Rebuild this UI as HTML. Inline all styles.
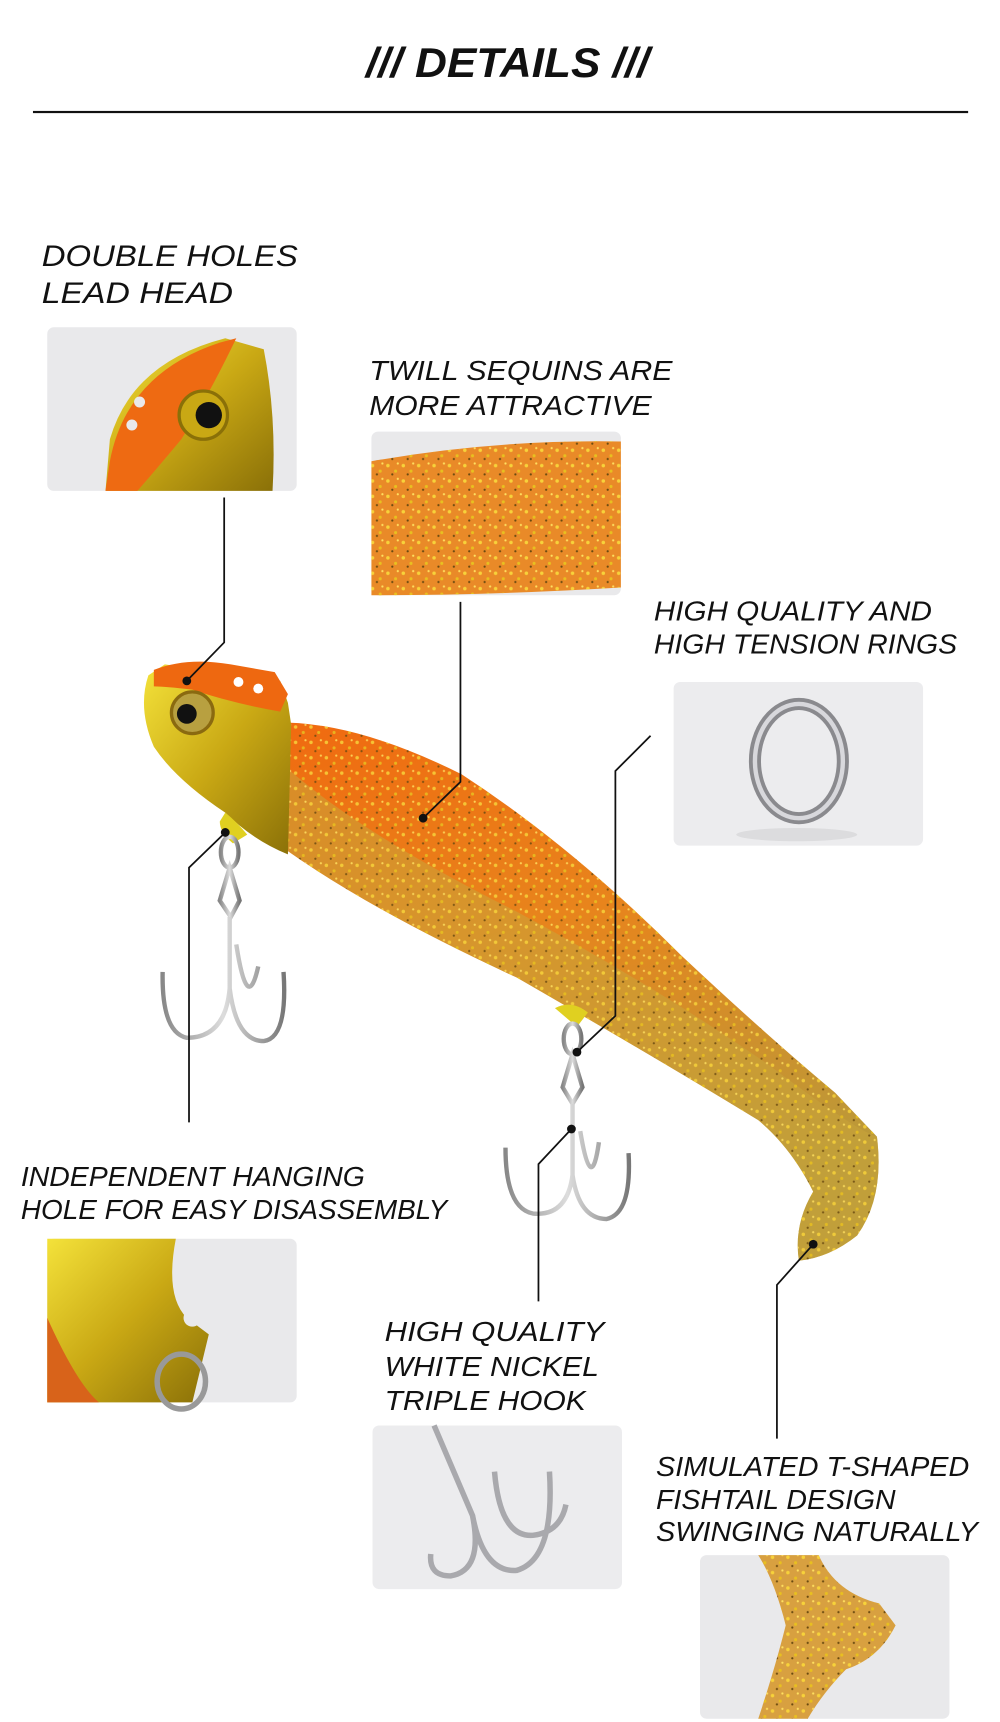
<!DOCTYPE html>
<html><head><meta charset="utf-8"><style>
html,body{margin:0;padding:0;background:#fff;}
svg{display:block;}
text{font-family:"Liberation Sans",sans-serif;font-style:italic;fill:#111;}
</style></head><body>
<svg width="1000" height="1722" viewBox="0 0 910 1568" preserveAspectRatio="none" xmlns="http://www.w3.org/2000/svg">
<defs>
<linearGradient id="body" x1="0" y1="0" x2="0.3" y2="1">
<stop offset="0" stop-color="#f06a10"/><stop offset="0.45" stop-color="#e8841c"/><stop offset="1" stop-color="#b99a3a"/></linearGradient>
<linearGradient id="gold" x1="0" y1="0" x2="1" y2="1">
<stop offset="0" stop-color="#f4e23a"/><stop offset="0.5" stop-color="#c9a814"/><stop offset="1" stop-color="#8a7008"/></linearGradient>
<linearGradient id="tail" x1="0" y1="0" x2="0" y2="1">
<stop offset="0" stop-color="#d99a3a"/><stop offset="1" stop-color="#d4bd55"/></linearGradient>
<pattern id="glit" width="14" height="14" patternUnits="userSpaceOnUse">
<circle cx="3" cy="4" r="1.6" fill="#f7d23a"/><circle cx="10" cy="9" r="1.4" fill="#e8c020"/><circle cx="7" cy="12" r="1" fill="#6a4a10"/><circle cx="12" cy="2" r="1" fill="#ffe060"/></pattern>
<linearGradient id="steel" x1="0" y1="0" x2="1" y2="0"><stop offset="0" stop-color="#888"/><stop offset="0.5" stop-color="#ddd"/><stop offset="1" stop-color="#777"/></linearGradient>
</defs>

<!-- title -->
<text x="462" y="70" text-anchor="middle" font-size="38" font-weight="bold" textLength="258" lengthAdjust="spacingAndGlyphs">/// DETAILS ///</text>
<rect x="30" y="101" width="851" height="2" fill="#111"/>

<!-- labels -->
<g font-size="27">
<text x="38" y="242" textLength="233" lengthAdjust="spacingAndGlyphs">DOUBLE HOLES</text>
<text x="38" y="276" textLength="174" lengthAdjust="spacingAndGlyphs">LEAD HEAD</text>
</g>
<g font-size="25">
<text x="336" y="346" textLength="276" lengthAdjust="spacingAndGlyphs">TWILL SEQUINS ARE</text>
<text x="336" y="378" textLength="257" lengthAdjust="spacingAndGlyphs">MORE ATTRACTIVE</text>
<text x="595" y="565" textLength="253" lengthAdjust="spacingAndGlyphs">HIGH QUALITY AND</text>
<text x="595" y="595" textLength="276" lengthAdjust="spacingAndGlyphs">HIGH TENSION RINGS</text>
<text x="19" y="1080" textLength="313" lengthAdjust="spacingAndGlyphs">INDEPENDENT HANGING</text>
<text x="19" y="1110" textLength="388" lengthAdjust="spacingAndGlyphs">HOLE FOR EASY DISASSEMBLY</text>
<text x="350" y="1221" textLength="200" lengthAdjust="spacingAndGlyphs">HIGH QUALITY</text>
<text x="350" y="1253" textLength="195" lengthAdjust="spacingAndGlyphs">WHITE NICKEL</text>
<text x="350" y="1284" textLength="183" lengthAdjust="spacingAndGlyphs">TRIPLE HOOK</text>
<text x="597" y="1344" textLength="285" lengthAdjust="spacingAndGlyphs">SIMULATED T-SHAPED</text>
<text x="597" y="1374" textLength="218" lengthAdjust="spacingAndGlyphs">FISHTAIL DESIGN</text>
<text x="597" y="1403" textLength="293" lengthAdjust="spacingAndGlyphs">SWINGING NATURALLY</text>
</g>

<!-- image 1: head -->
<rect x="43" y="298" width="227" height="149" rx="6" fill="#e9e9eb"/>
<path d="M96 447 L100 400 Q120 330 205 308 L240 318 Q252 380 248 447 Z" fill="url(#gold)"/>
<path d="M96 447 L100 420 Q115 340 200 312 L215 308 Q190 360 165 400 Q140 430 125 447 Z" fill="#ee6a12"/>
<circle cx="127" cy="366" r="5" fill="#e9e9eb"/><circle cx="120" cy="387" r="5" fill="#e9e9eb"/>
<circle cx="185" cy="378" r="22" fill="#c9a814" stroke="#8a7008" stroke-width="3"/>
<circle cx="190" cy="378" r="12" fill="#111"/>

<!-- image 2: body -->
<rect x="338" y="393" width="227" height="149" rx="6" fill="#e9e9eb"/>
<path d="M338 420 Q450 400 565 402 L565 535 Q450 542 338 542 Z" fill="#e98a28"/>
<path d="M338 420 Q450 400 565 402 L565 535 Q450 542 338 542 Z" fill="url(#glit)"/>

<!-- image 3: ring -->
<rect x="613" y="621" width="227" height="149" rx="6" fill="#ececee"/>
<ellipse cx="725" cy="760" rx="55" ry="6" fill="#dcdcde"/>
<ellipse cx="727" cy="693" rx="40" ry="52" fill="none" stroke="#8a8a8e" stroke-width="11"/>
<ellipse cx="727" cy="693" rx="40" ry="52" fill="none" stroke="#d8d8dc" stroke-width="4"/>

<!-- image 4: hanging hole -->
<rect x="43" y="1128" width="227" height="149" rx="6" fill="#e9e9eb"/>
<path d="M43 1128 L160 1128 Q150 1180 170 1200 L190 1215 L175 1277 L43 1277 Z" fill="url(#gold)"/>
<path d="M43 1200 Q70 1260 90 1277 L43 1277 Z" fill="#d8631a"/>
<circle cx="175" cy="1200" r="8" fill="#e9e9eb"/>
<ellipse cx="165" cy="1258" rx="22" ry="25" fill="none" stroke="#999" stroke-width="5"/>

<!-- image 5: hook -->
<rect x="339" y="1298" width="227" height="149" rx="6" fill="#ececee"/>
<path d="M395 1298 L430 1380 Q440 1430 410 1435 Q390 1435 392 1415 M430 1380 Q440 1432 470 1430 Q505 1420 500 1340 M450 1340 Q455 1400 485 1398 Q510 1395 515 1370" fill="none" stroke="#a9a9ad" stroke-width="5"/>

<!-- image 6: tail -->
<rect x="637" y="1416" width="227" height="149" rx="6" fill="#e9e9eb"/>
<path d="M690 1416 L745 1416 Q760 1450 800 1460 L815 1480 Q800 1510 770 1520 Q750 1540 735 1565 L690 1565 Q705 1520 715 1480 Q705 1440 690 1416 Z" fill="#d8a040"/>
<path d="M690 1416 L745 1416 Q760 1450 800 1460 L815 1480 Q800 1510 770 1520 Q750 1540 735 1565 L690 1565 Q705 1520 715 1480 Q705 1440 690 1416 Z" fill="url(#glit)"/>

<!-- fish body -->
<path d="M262 658 Q330 660 420 705 Q520 770 620 870 Q700 945 760 995 L798 1035 Q805 1090 780 1125 Q755 1145 727 1148 Q722 1115 740 1085 Q720 1045 690 1020 Q600 965 470 890 Q340 830 262 775 Z" fill="url(#body)"/>
<path d="M262 700 Q330 760 470 830 Q600 900 700 970 Q780 1030 798 1035 Q805 1090 780 1125 Q755 1145 727 1148 Q722 1115 740 1085 Q720 1045 690 1020 Q600 965 470 890 Q340 830 262 775 Z" fill="#c9a43a" opacity="0.55"/>
<path d="M262 658 Q330 660 420 705 Q520 770 620 870 Q700 945 760 995 L798 1035 Q805 1090 780 1125 Q755 1145 727 1148 Q722 1115 740 1085 Q720 1045 690 1020 Q600 965 470 890 Q340 830 262 775 Z" fill="url(#glit)" opacity="0.85"/>

<!-- head -->
<path d="M150 605 L255 620 L262 640 L265 660 L262 778 Q230 765 205 740 Q160 710 140 680 Q125 645 135 615 Z" fill="url(#gold)"/>
<path d="M140 610 Q170 598 210 605 L250 612 L262 632 L255 648 Q210 640 175 628 Q150 625 140 625 Z" fill="#ee6810"/>
<circle cx="217" cy="621" r="4.5" fill="#fff"/><circle cx="235" cy="627" r="4.5" fill="#fff"/>
<circle cx="175" cy="649" r="19" fill="#b8a040" stroke="#8a6a10" stroke-width="3"/>
<circle cx="170" cy="650" r="9" fill="#111"/>
<path d="M205 740 Q215 748 225 760 L212 768 Q200 758 200 748 Z" fill="#e0d020"/>
<path d="M505 918 Q520 910 535 922 L525 935 Z" fill="#e0d020"/>

<!-- hook 1 -->
<g fill="none" stroke="url(#steel)" stroke-width="4">
<ellipse cx="209" cy="776" rx="8" ry="14"/>
<path d="M209 790 L200 820 L210 835 L218 820 Z"/>
<path d="M209 835 L209 900 Q205 945 170 945 Q147 940 148 885 M209 900 Q215 948 240 948 Q262 945 258 885 M215 860 Q225 925 235 880"/>
</g>
<!-- hook 2 -->
<g fill="none" stroke="url(#steel)" stroke-width="4">
<ellipse cx="521" cy="946" rx="8" ry="14"/>
<path d="M521 960 L512 990 L521 1005 L530 990 Z"/>
<path d="M521 1005 L521 1070 Q516 1108 485 1105 Q460 1100 460 1045 M521 1070 Q527 1110 552 1110 Q575 1105 572 1050 M528 1030 Q538 1090 545 1040"/>
</g>

<!-- connectors -->
<g stroke="#111" stroke-width="1.6" fill="none">
<polyline points="204,453 204,585 170,620"/>
<polyline points="419,548 419,712 385,745"/>
<polyline points="592,670 560,702 560,925 525,958"/>
<polyline points="172,1022 172,790 205,758"/>
<polyline points="490,1185 490,1060 520,1028"/>
<polyline points="707,1310 707,1170 740,1133"/>
</g>
<g fill="#111">
<circle cx="170" cy="620" r="4"/><circle cx="385" cy="745" r="4"/><circle cx="525" cy="958" r="4"/>
<circle cx="205" cy="758" r="4"/><circle cx="520" cy="1028" r="4"/><circle cx="740" cy="1133" r="4"/>
</g>
</svg>
</body></html>
